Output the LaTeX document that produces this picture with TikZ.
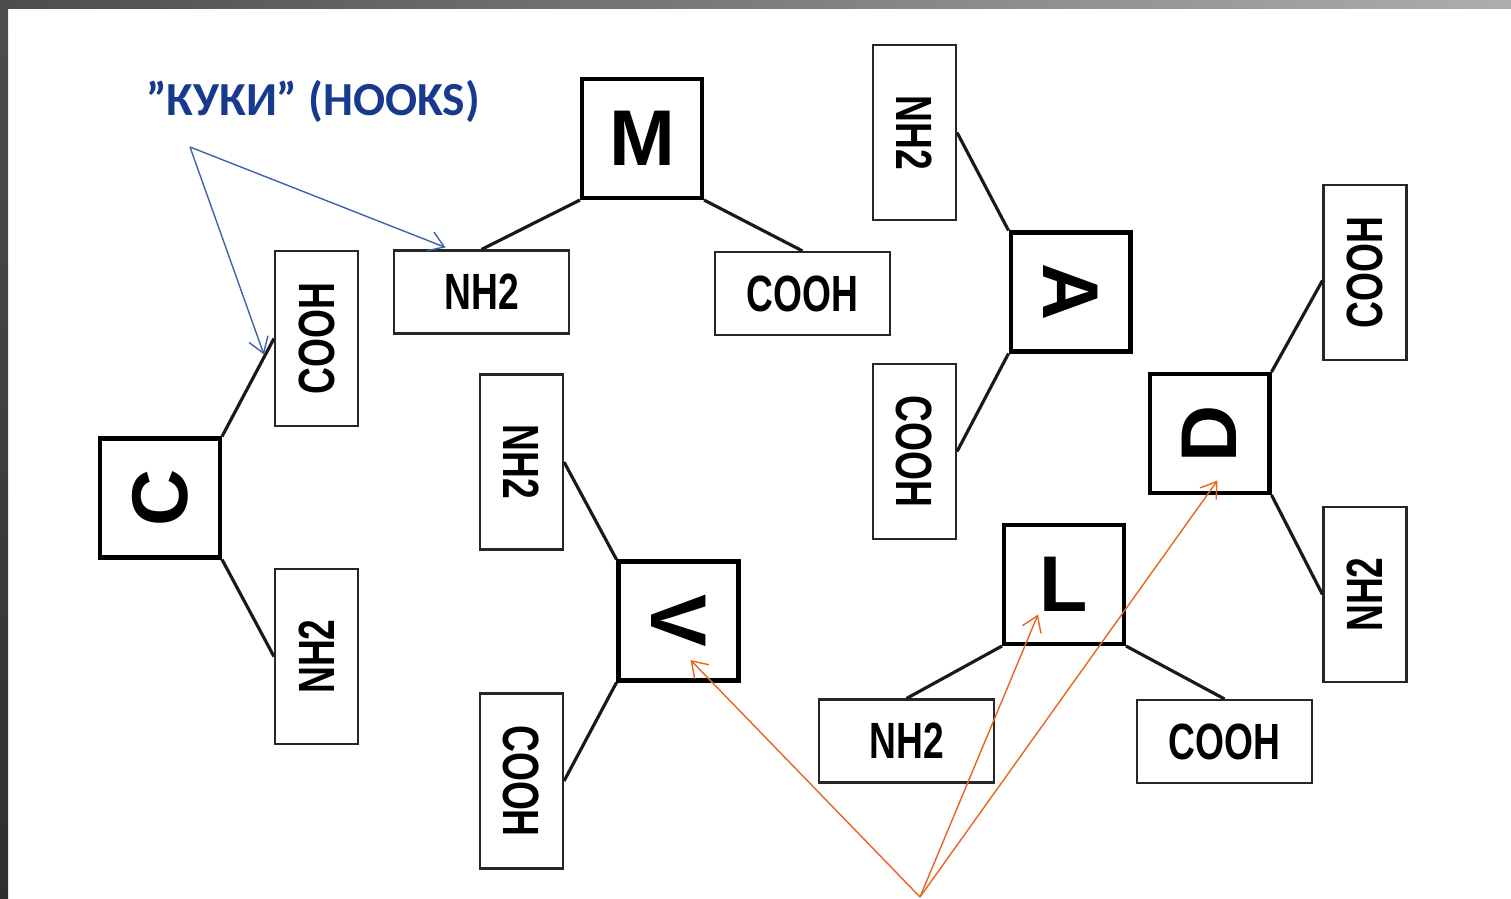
\documentclass[tikz,border=0pt]{standalone}
\usepackage{fontspec}
\usepackage{graphicx}
\usetikzlibrary{arrows.meta,calc}
\setmainfont{Liberation Sans}
\newfontfamily\groupfont{Liberation Sans}[FakeStretch=0.73]
\newfontfamily\titlefont{Carlito}
\definecolor{hookblue}{HTML}{173A8F}
\definecolor{pointblue}{HTML}{3D65A8}
\definecolor{pointorange}{HTML}{E8651E}
\tikzstyle{residue} = [draw=black, line width=2.3pt, minimum width=2.4cm, minimum height=2.38cm, inner sep=0pt, font=\fontsize{45}{45}\selectfont\bfseries]
\tikzstyle{group} = [draw=black!85, line width=1.2pt, minimum width=3.5cm, minimum height=1.66cm, inner sep=0pt, font=\groupfont\fontsize{29}{29}\selectfont\bfseries]
\tikzstyle{bond} = [black!90, line width=1.8pt]
\tikzstyle{hookarrow} = [pointblue, line width=0.8pt, -{Straight Barb[length=3mm,width=4mm]}]
\tikzstyle{markarrow} = [pointorange, line width=0.8pt, -{Straight Barb[length=3mm,width=4mm]}]

\begin{document}
\begin{tikzpicture}[x=0.02cm, y=-0.02cm]
	\useasboundingbox (0,0) rectangle (1511,899);
	\shade[left color=black!70, right color=black!32] (0,0) rectangle (1511,8);
	\shade[top color=black!70, bottom color=black!82] (0,0) rectangle (8,899);

	\node[text=hookblue, font=\titlefont\fontsize{27}{27}\selectfont\bfseries] (hooks) at (313,101) {”КУКИ” (HOOKS)};

	% M
	\node[residue] (M) at (642,138.5) {M};
	\node[group] (NHm) at (481.5,292) {NH2};
	\node[group] (COm) at (802.5,293.5) {COOH};
	\draw[bond] (M.south west) -- (NHm.north);
	\draw[bond] (M.south east) -- (COm.north);

	% C
	\node[residue] (C) at (160,498) {\rotatebox{90}{C}};
	\node[group, rotate=90] (COc) at (316.5,338.5) {COOH};
	\node[group, rotate=90] (NHc) at (316.5,656.5) {NH2};
	\draw[bond] (C.north east) -- (COc.north);
	\draw[bond] (C.south east) -- (NHc.north);

	% V
	\node[residue] (V) at (678.5,621) {\rotatebox{-90}{V}};
	\node[group, rotate=-90] (NHv) at (521.5,462) {NH2};
	\node[group, rotate=-90] (COv) at (521.5,781) {COOH};
	\draw[bond] (V.north west) -- (NHv.north);
	\draw[bond] (V.south west) -- (COv.north);

	% A
	\node[residue] (A) at (1070.5,292) {\rotatebox{-90}{A}};
	\node[group, rotate=-90] (NHa) at (914.5,132.5) {NH2};
	\node[group, rotate=-90] (COa) at (914.5,451.5) {COOH};
	\draw[bond] (A.north west) -- (NHa.north);
	\draw[bond] (A.south west) -- (COa.north);

	% D
	\node[residue] (D) at (1209.5,433.5) {\rotatebox{90}{D}};
	\node[group, rotate=90] (COd) at (1365,272.5) {COOH};
	\node[group, rotate=90] (NHd) at (1365,594.5) {NH2};
	\draw[bond] (D.north east) -- ($(COd.north)+(0,8)$);
	\draw[bond] (D.south east) -- (NHd.north);

	% L
	\node[residue] (L) at (1064,584.5) {L};
	\node[group] (NHl) at (906.5,741) {NH2};
	\node[group] (COl) at (1224.5,741.5) {COOH};
	\draw[bond] (L.south west) -- (NHl.north);
	\draw[bond] (L.south east) -- (COl.north);

	% pointers
	\coordinate (hk) at (190,147);
	\coordinate (hkc) at ($(COc.north)+(-10,16)$);
	\coordinate (hkm) at ($(NHm.north)+(-36,-2)$);
	\draw[hookarrow] (hk) -- (hkc);
	\draw[hookarrow] (hk) -- (hkm);

	\coordinate (src) at (920,897);
	\coordinate (tv) at ($(V.center)+(12,39)$);
	\coordinate (tl) at ($(L.center)+(-26,30)$);
	\coordinate (td) at ($(D.center)+(8,47)$);
	\draw[markarrow] (src) -- (tv);
	\draw[markarrow] (src) -- (tl);
	\draw[markarrow] (src) -- (td);
\end{tikzpicture}
\end{document}
